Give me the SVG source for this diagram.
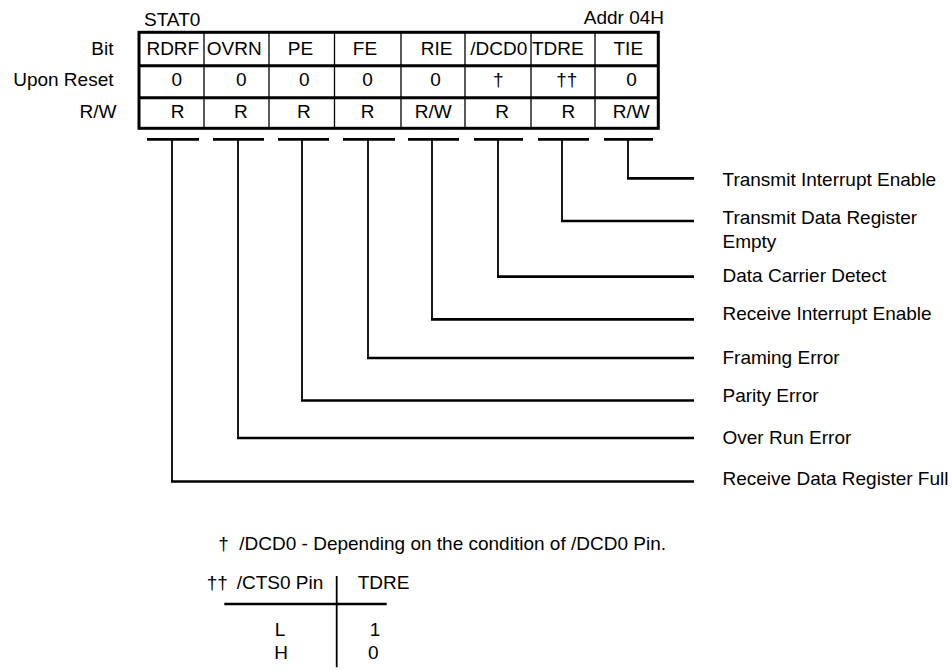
<svg xmlns="http://www.w3.org/2000/svg" width="952" height="671" viewBox="0 0 952 671">
<style>
text{font-family:"Liberation Sans",Arial,Helvetica,sans-serif;font-size:19px;fill:#000}
.c{text-anchor:middle}
.r{text-anchor:end}
.thick{stroke:#000;stroke-width:3;fill:none}
.thin{stroke:#000;stroke-width:1.3;fill:none}
.bar{stroke:#000;stroke-width:2.7;fill:none}
.v{stroke:#000;stroke-width:1.8;fill:none}
.h{stroke:#000;stroke-width:2.7;fill:none}
</style>
<rect width="952" height="671" fill="#fff"/>

<g id="register">
<text x="144" y="26">STAT0</text>
<text class="r" x="664" y="23.5">Addr 04H</text>
<text class="r" x="113.5" y="55">Bit</text>
<text class="r" x="113.5" y="86">Upon Reset</text>
<text class="r" x="116.5" y="117.7">R/W</text>
<rect class="thick" x="139" y="32.3" width="519.3" height="96"/>
<line class="thick" x1="139" y1="65.7" x2="658.3" y2="65.7"/>
<line class="thick" x1="139" y1="97.7" x2="658.3" y2="97.7"/>
<g class="thin">
<line x1="204" y1="32.3" x2="204" y2="128.3"/>
<line x1="269" y1="32.3" x2="269" y2="128.3"/>
<line x1="334.5" y1="32.3" x2="334.5" y2="128.3"/>
<line x1="401" y1="32.3" x2="401" y2="128.3"/>
<line x1="465" y1="32.3" x2="465" y2="128.3"/>
<line x1="531" y1="32.3" x2="531" y2="128.3"/>
<line x1="595" y1="32.3" x2="595" y2="128.3"/>
</g>
<text class="c" x="172.8" y="55">RDRF</text>
<text class="c" x="234.2" y="55">OVRN</text>
<text class="c" x="300.5" y="55">PE</text>
<text class="c" x="365" y="55">FE</text>
<text class="c" x="436.7" y="55">RIE</text>
<text class="c" x="498.8" y="55">/DCD0</text>
<text class="c" x="557.8" y="55">TDRE</text>
<text class="c" x="628.3" y="55">TIE</text>
<text class="c" x="176.7" y="86">0</text>
<text class="c" x="241.2" y="86">0</text>
<text class="c" x="304.2" y="86">0</text>
<text class="c" x="367.5" y="86">0</text>
<text class="c" x="435.5" y="86">0</text>
<text class="c" x="498.3" y="86">†</text>
<text class="c" x="566.7" y="86">††</text>
<text class="c" x="631.5" y="86">0</text>
<text class="c" x="177.5" y="117.7">R</text>
<text class="c" x="240.8" y="117.7">R</text>
<text class="c" x="303.8" y="117.7">R</text>
<text class="c" x="367.5" y="117.7">R</text>
<text class="c" x="433.3" y="117.7">R/W</text>
<text class="c" x="502" y="117.7">R</text>
<text class="c" x="568.3" y="117.7">R</text>
<text class="c" x="631.3" y="117.7">R/W</text>
</g>

<g id="bit-bars">
<line class="bar" x1="147" y1="139.3" x2="199" y2="139.3"/>
<line class="bar" x1="213" y1="139.3" x2="264" y2="139.3"/>
<line class="bar" x1="278" y1="139.3" x2="329" y2="139.3"/>
<line class="bar" x1="343" y1="139.3" x2="395" y2="139.3"/>
<line class="bar" x1="408" y1="139.3" x2="459" y2="139.3"/>
<line class="bar" x1="474" y1="139.3" x2="523" y2="139.3"/>
<line class="bar" x1="538" y1="139.3" x2="589" y2="139.3"/>
<line class="bar" x1="604" y1="139.3" x2="653" y2="139.3"/>
</g>

<g id="connectors">
<line class="v" x1="172" y1="139.3" x2="172" y2="481.5"/><line class="h" x1="171" y1="481.5" x2="694" y2="481.5"/>
<line class="v" x1="238" y1="139.3" x2="238" y2="438"/><line class="h" x1="237" y1="438" x2="694" y2="438"/>
<line class="v" x1="302" y1="139.3" x2="302" y2="400.5"/><line class="h" x1="301" y1="400.5" x2="694" y2="400.5"/>
<line class="v" x1="368" y1="139.3" x2="368" y2="358"/><line class="h" x1="367" y1="358" x2="694" y2="358"/>
<line class="v" x1="432" y1="139.3" x2="432" y2="319.3"/><line class="h" x1="431" y1="319.3" x2="694" y2="319.3"/>
<line class="v" x1="498" y1="139.3" x2="498" y2="276.7"/><line class="h" x1="497" y1="276.7" x2="694" y2="276.7"/>
<line class="v" x1="562" y1="139.3" x2="562" y2="221"/><line class="h" x1="561" y1="221" x2="694" y2="221"/>
<line class="v" x1="628" y1="139.3" x2="628" y2="178.3"/><line class="h" x1="627" y1="178.3" x2="694" y2="178.3"/>
</g>

<g id="labels">
<text x="722.5" y="186">Transmit Interrupt Enable</text>
<text x="722.5" y="224">Transmit Data Register</text>
<text x="722.5" y="247.7">Empty</text>
<text x="722.5" y="281.7">Data Carrier Detect</text>
<text x="722.5" y="320">Receive Interrupt Enable</text>
<text x="722.5" y="364">Framing Error</text>
<text x="722.5" y="402">Parity Error</text>
<text x="722.5" y="444">Over Run Error</text>
<text x="722.5" y="485">Receive Data Register Full</text>
</g>

<g id="notes">
<text x="218.3" y="550">†</text>
<text x="239.3" y="550">/DCD0 - Depending on the condition of /DCD0 Pin.</text>
<text x="206.7" y="589.3">††</text>
<text x="236.7" y="589.3">/CTS0 Pin</text>
<text x="357.7" y="589.3">TDRE</text>
<line class="h" x1="224.3" y1="604" x2="386.7" y2="604"/>
<line class="v" x1="336.7" y1="576" x2="336.7" y2="667.3"/>
<text class="c" x="280" y="635.7">L</text>
<text class="c" x="281" y="659">H</text>
<text class="c" x="375" y="635.7">1</text>
<text class="c" x="373.3" y="659">0</text>
</g>
</svg>
